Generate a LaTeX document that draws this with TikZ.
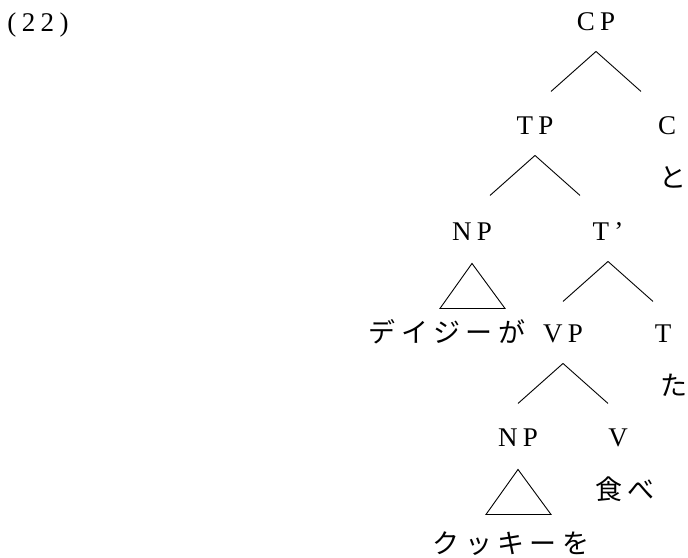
\documentclass[tikz,border=0pt]{standalone}
\usepackage{fontspec}
\setmainfont[LetterSpace=20]{Liberation Serif}
\newfontfamily\jp[LetterSpace=20]{Noto Sans CJK JP}
\usetikzlibrary{calc}

\begin{document}
\begin{tikzpicture}[x=1pt, y=1pt, line width=0.9pt, level distance=104pt,
          every node/.style={inner sep=0pt, text height=20pt, text depth=2pt,
            font=\fontsize{27}{30}\selectfont},
          edge from parent path={($(\tikzparentnode.south)+(0,-19pt)$) --
            ($(\tikzparentnode.south)!45pt!(\tikzchildnode |- \tikzparentnode.south)+(0,-59pt)$)},
          branch/.style={xshift=5pt},
          roof/.style={edge from parent path={($(\tikzparentnode.south)+(0,-21pt)$) --
            ($(\tikzparentnode.south)+(-32pt,-66pt)$) --
            ($(\tikzparentnode.south)+(33pt,-66pt)$) -- cycle}},
          word/.style={level distance=53pt},
          level 1/.style={sibling distance=132pt},
          level 2/.style={sibling distance=136pt, level distance=106pt},
          level 3/.style={sibling distance=100pt, level distance=102pt},
          level 4/.style={sibling distance=100pt, level distance=104pt}]
          \useasboundingbox (0,0) rectangle (688,-557);
          \node (num) at (38,-22) {(22)};
          \node (cp) at (596,-21) {CP}
            child[branch] {node (tp) {TP}
              child[branch] {node (np1) {NP}
                child[roof, xshift=-25pt, level distance=102pt] {node (daisy) {\jp デイジーが}}
              }
              child[branch] {node (tbar) {T'}
                child[branch] {node (vp) {VP}
                  child[branch] {node (np2) {NP}
                    child[roof, xshift=-7pt, level distance=107pt] {node (cookie) {\jp クッキーを}}
                  }
                  child[branch] {node (v) {V}
                    child[word, xshift=7pt] {node (tabe) {\jp 食べ} edge from parent[draw=none]}
                  }
                }
                child[branch] {node (t) {T}
                  child[word, xshift=11pt] {node (ta) {\jp た} edge from parent[draw=none]}
                }
              }
            }
            child[branch] {node (c) {C}
              child[word, xshift=6pt] {node (to) {\jp と} edge from parent[draw=none]}
            };
\end{tikzpicture}
\end{document}
